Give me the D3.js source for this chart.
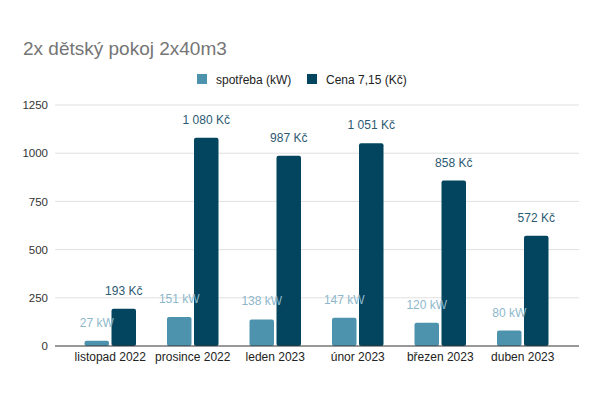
<!DOCTYPE html>
<html>
<head>
<meta charset="utf-8">
<script src="https://cdn.jsdelivr.net/npm/d3@7"></script>
<style>
  body { margin: 0; background: #fff; }
  text { font-family: "Liberation Sans", Arial, sans-serif; }
</style>
</head>
<body>
<svg id="svg" width="600" height="393"></svg>
<script>
// data
const months = ["listopad 2022", "prosince 2022", "leden 2023", "únor 2023", "březen 2023", "duben 2023"];
const spotreba = [27, 151, 138, 147, 120, 80];
const cena = [193, 1080, 987, 1051, 858, 572];
const cenaLabels = ["193 Kč", "1 080 Kč", "987 Kč", "1 051 Kč", "858 Kč", "572 Kč"];
const yTicks = [0, 250, 500, 750, 1000, 1250];
const seriesNames = ["spotřeba (kW)", "Cena 7,15 (Kč)"];

const colors = ["#4e93ae", "#03455f"];
const labelColors = ["#8db7ca", "#2c5a72"];
const sans = "'Liberation Sans', Arial, sans-serif";

const svg = d3.select("svg#svg");

const x = d3.scaleBand().domain(months).range([69, 564]);
const y = d3.scaleLinear().domain([0, 1250]).range([346, 105]);
const barW = 24.5, gap = 2.5;

// title
svg.append("text").attr("x", 23).attr("y", 55)
  .attr("font-size", 19).attr("fill", "#757575")
  .text("2x dětský pokoj 2x40m3");

// legend
const legX = [197, 307];
seriesNames.forEach((name, i) => {
  svg.append("rect").attr("x", legX[i]).attr("y", 74).attr("width", 10).attr("height", 10)
    .attr("fill", colors[i]);
  svg.append("text").attr("x", legX[i] + 19).attr("y", 83.5)
    .attr("font-size", 12).attr("fill", "#222").text(name);
});

// grid
svg.append("g").selectAll("line").data(yTicks.filter(d => d > 0)).join("line")
  .attr("x1", 55).attr("x2", 579)
  .attr("y1", d => y(d)).attr("y2", d => y(d))
  .attr("stroke", "#e0e0e0").attr("stroke-width", 1);

// y axis labels
const yAxis = svg.append("g").attr("transform", "translate(55,0)")
  .call(d3.axisLeft(y).tickValues(yTicks).tickFormat(d3.format("d")).tickSize(0).tickPadding(7));
yAxis.select(".domain").remove();
yAxis.selectAll("text").attr("font-size", 11.5).attr("fill", "#333").attr("font-family", sans);

// bars
const groups = svg.append("g").selectAll("g").data(months).join("g")
  .attr("transform", d => `translate(${x(d) + x.bandwidth() / 2},0)`);

groups.append("rect")
  .attr("x", -barW - gap / 2).attr("width", barW)
  .attr("y", (d, i) => y(spotreba[i])).attr("height", (d, i) => y(0) - y(spotreba[i]))
  .attr("rx", 2).attr("fill", colors[0]);

groups.append("rect")
  .attr("x", gap / 2).attr("width", barW)
  .attr("y", (d, i) => y(cena[i])).attr("height", (d, i) => y(0) - y(cena[i]))
  .attr("rx", 2).attr("fill", colors[1]);

// value labels
groups.append("text")
  .attr("x", -barW / 2 - gap / 2).attr("y", (d, i) => y(spotreba[i]) - 14)
  .attr("text-anchor", "middle").attr("font-size", 12).attr("font-family", "Roboto, sans-serif")
  .attr("fill", labelColors[0])
  .text((d, i) => spotreba[i] + " kW");

groups.append("text")
  .attr("x", barW / 2 + gap / 2).attr("y", (d, i) => y(cena[i]) - 14)
  .attr("text-anchor", "middle").attr("font-size", 12).attr("font-family", "Roboto, sans-serif")
  .attr("fill", labelColors[1])
  .text((d, i) => cenaLabels[i]);

// baseline
svg.append("line").attr("x1", 55).attr("x2", 579).attr("y1", y(0)).attr("y2", y(0))
  .attr("stroke", "#333").attr("stroke-width", 1);

// x axis labels
const xAxis = svg.append("g").attr("transform", `translate(0,${y(0)})`)
  .call(d3.axisBottom(x).tickSize(0).tickPadding(6));
xAxis.select(".domain").remove();
xAxis.selectAll("text").attr("font-size", 12).attr("fill", "#222").attr("font-family", sans);
</script>
</body>
</html>
